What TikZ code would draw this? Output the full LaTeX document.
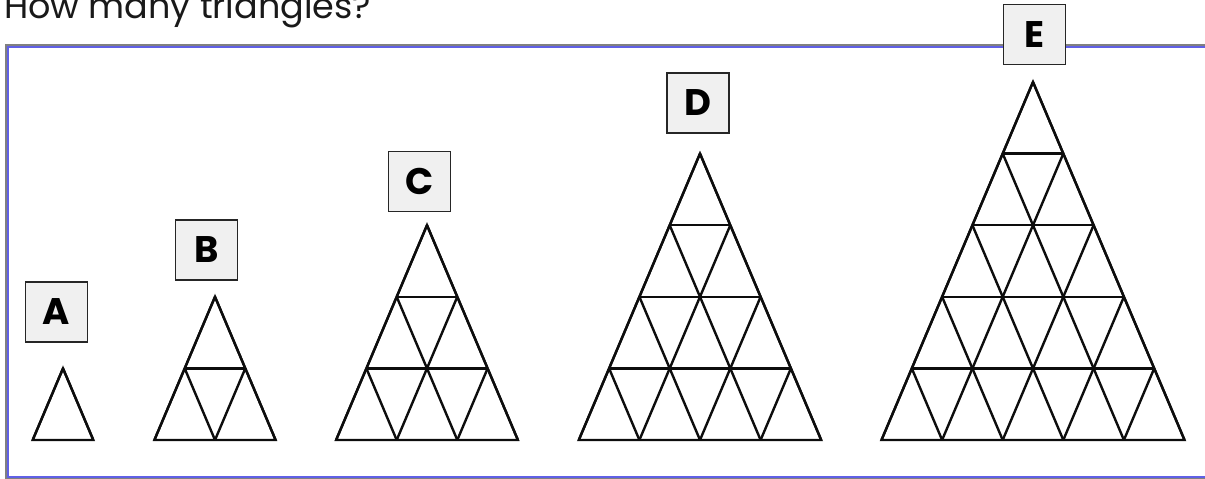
\documentclass[tikz,border=0pt]{standalone}
\usepackage{fontspec}
\setmainfont{Poppins}

\definecolor{marcoazul}{RGB}{96,96,230}
\definecolor{marcogris}{RGB}{128,128,128}
\definecolor{cajagris}{RGB}{240,240,240}

% Medidas del triangulo unidad
\def\uw{60.6}
\def\uh{71.6}
\def\by{440}

% Triangulo subdividido: #1 = x del vertice, #2 = filas
\newcommand{\trigrid}[2]{%
  \pgfmathsetmacro{\xl}{#1-#2*\uw/2}
  \draw[tri] (#1,{\by-#2*\uh}) -- ({\xl},\by) -- ({\xl+#2*\uw},\by) -- cycle;
  \foreach \k in {1,...,#2}{
    \draw[tri] ({#1-\k*\uw/2},{\by-(#2-\k)*\uh}) -- ({#1+\k*\uw/2},{\by-(#2-\k)*\uh});
    \draw[tri] ({\xl+(\k-1)*\uw},\by) -- ({\xl+(\k-1)*\uw+(#2-\k+1)*\uw/2},{\by-(#2-\k+1)*\uh});
    \draw[tri] ({\xl+\k*\uw},\by) -- ({\xl+\k*\uw/2},{\by-\k*\uh});
  }
}

\tikzset{
  tri/.style={line width=2.4pt, black!95, line join=miter},
  letra/.style={draw=black!85, fill=cajagris, line width=1.5pt,
    minimum width=62pt, minimum height=60pt, inner sep=0pt,
    font=\fontsize{37}{37}\selectfont\bfseries}
}

\begin{document}
\begin{tikzpicture}[x=1pt,y=-1pt]
    \useasboundingbox (0,0) rectangle (1205,479);

    % Titulo
    \node[anchor=base west, inner sep=0pt, text=black!90,
      font=\fontsize{35}{35}\selectfont] (titulo) at (4,18) {How many triangles?};

    % Marco (abierto a la derecha)
    \draw[marcogris, line width=2pt] (1210,45) -- (6,45) -- (6,479) -- (1210,479);
    \draw[marcoazul, line width=1.5pt] (1210,47) -- (8,47) -- (8,477) -- (1210,477);

    % Triangulos
    \trigrid{63}{1}
    \trigrid{215}{2}
    \trigrid{427}{3}
    \trigrid{700}{4}
    \trigrid{1033}{5}

    % Etiquetas
    \node[letra] (cajaA) at (56.5,312) {A};
    \node[letra] (cajaB) at (206.5,250) {B};
    \node[letra] (cajaC) at (419.5,181.5) {C};
    \node[letra] (cajaD) at (698,103) {D};
    \node[letra] (cajaE) at (1034.5,34.5) {E};
\end{tikzpicture}
\end{document}
